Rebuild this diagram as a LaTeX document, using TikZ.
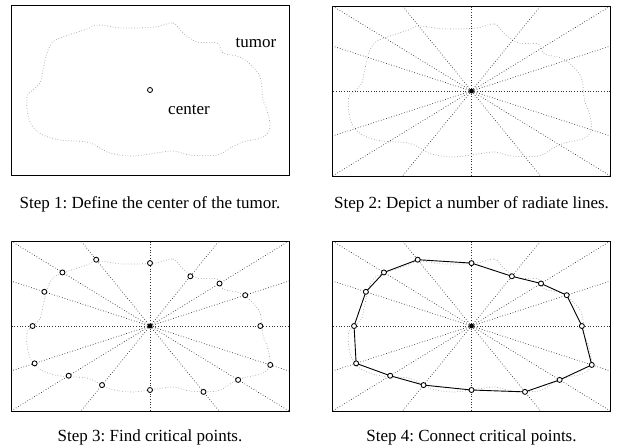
\documentclass[tikz,border=0pt]{standalone}
\usepackage{fontspec}
\setmainfont{Liberation Serif}
\usetikzlibrary{calc}
\frenchspacing

\begin{document}
\begin{tikzpicture}[x=1pt,y=-1pt,
    frame/.style={draw=black, line width=0.9pt},
    tumor/.style={draw=tumorgray, dotted, line width=0.7pt},
    ray/.style={draw=raygray, dotted, line width=0.7pt},
    crit/.style={circle, draw=black, fill=white, line width=0.85pt, inner sep=0pt, minimum size=5pt},
    hub/.style={circle, draw=black, fill=black, inner sep=0pt, minimum size=4.4pt},
    contour/.style={draw=black, line width=0.9pt},
    caption/.style={font=\fontsize{17}{20}\selectfont},
    tag/.style={font=\fontsize{17}{20}\selectfont}]

%my colors
\definecolor{tumorgray}{gray}{0.62}
\definecolor{raygray}{gray}{0.2}

    % page size
    \useasboundingbox (0,0) rectangle (623,447);

    % tumor outline, offsets from the center
    \def\tumorline{plot[smooth cycle, tension=0.6] coordinates {(5,-63) (23,-67) (33,-57) (47,-48) (67,-47) (73,-37) (90,-33) (103,-23) (110,-13) (112,0) (113,10) (117,20) (120,37) (113,47) (93,52) (80,58) (67,65) (40,65) (23,61) (0,64) (-20,66) (-40,63) (-50,58) (-63,52) (-90,50) (-107,45) (-117,37) (-122,25) (-123,7) (-117,0) (-110,-7) (-107,-20) (-103,-37) (-98,-47) (-90,-52) (-63,-61) (-52,-65) (-27,-62)}}

    % ray ends on the frame / fraction where the ray meets the tumor
    \def\raylist{0/-85/0.74, 69/-85/0.585, 139/-85/0.5, 139/-45/0.685, 139/0/0.794, 139/45/0.865, 139/85/0.634, 69/85/0.775, 0/85/0.753, -69/85/0.695, -139/85/0.585, -139/45/0.83, -139/0/0.845, -139/-45/0.76, -139/-85/0.63, -69/-85/0.78}

    % Panel centers
    \coordinate (c1) at (150,90);
    \coordinate (c2) at (471.5,91);
    \coordinate (c3) at (150,326);
    \coordinate (c4) at (471.5,326);

    % Step 1 - the tumor and its center
    \begin{scope}[shift={(c1)}]
    \draw[frame] (-139,-85) rectangle (139,85);
    \draw[tumor] \tumorline;
    \node[crit] (o1) at (0,0) {};
    \node[tag] (tumorlabel) at (106,-47) {tumor};
    \node[tag] (centerlabel) at (39,20) {center};
    \end{scope}
    \node[caption] (cap1) at ($(c1)+(0,114)$) {Step 1: Define the center of the tumor.};

    % Step 2 - radiate lines
    \begin{scope}[shift={(c2)}]
    \draw[frame] (-139,-85) rectangle (139,85);
    \draw[tumor] \tumorline;
    \coordinate (o2) at (0,0);
    \foreach \ex/\ey/\t [count=\i] in \raylist {
        \coordinate (b\i) at (\ex,\ey);
        \draw[ray] (o2) -- (b\i);
    }
    \node[hub] (h2) at (o2) {};
    \end{scope}
    \node[caption] (cap2) at ($(c2)+(0,113)$) {Step 2: Depict a number of radiate lines.};

    % Step 3 - critical points on the rays
    \begin{scope}[shift={(c3)}]
    \draw[frame] (-139,-85) rectangle (139,85);
    \draw[tumor] \tumorline;
    \coordinate (o3) at (0,0);
    \foreach \ex/\ey/\t [count=\i] in \raylist {
        \coordinate (e\i) at (\ex,\ey);
        \draw[ray] (o3) -- (e\i);
        \node[crit] (p\i) at ($(o3)!\t!(e\i)$) {};
    }
    \node[hub] (h3) at (o3) {};
    \end{scope}
    \node[caption] (cap3) at ($(c3)+(0,111)$) {Step 3: Find critical points.};

    % Step 4 - connect the critical points
    \begin{scope}[shift={(c4)}]
    \draw[frame] (-139,-85) rectangle (139,85);
    \draw[tumor] \tumorline;
    \coordinate (o4) at (0,0);
    \foreach \ex/\ey/\t [count=\i] in \raylist {
        \coordinate (f\i) at (\ex,\ey);
        \draw[ray] (o4) -- (f\i);
        \coordinate (q\i) at ($(o4)!\t!(f\i)$);
    }
    \draw[contour] (q1) \foreach \i in {2,...,16} { -- (q\i)} -- cycle;
    \foreach \i in {1,...,16}
        \node[crit] (n\i) at (q\i) {};
    \node[hub] (h4) at (o4) {};
    \end{scope}
    \node[caption] (cap4) at ($(c4)+(0,111)$) {Step 4: Connect critical points.};

\end{tikzpicture}
\end{document}
